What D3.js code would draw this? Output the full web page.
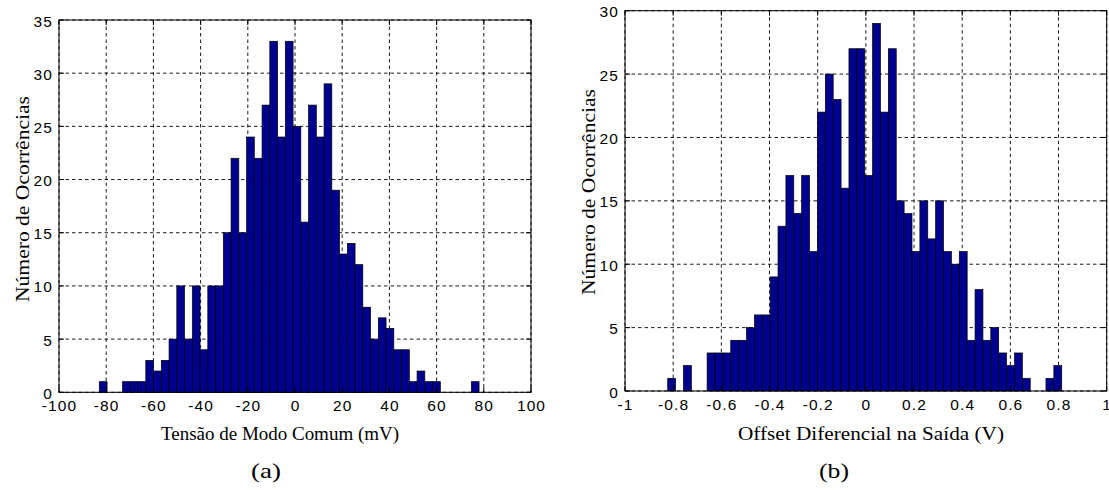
<!DOCTYPE html>
<html>
<head>
<meta charset="utf-8">
<script src="https://cdn.jsdelivr.net/npm/d3@7"></script>
<style>
  html, body { margin: 0; padding: 0; background: #fff; }
  svg { display: block; }
  .tick-label { font-family: "Liberation Sans", Arial, sans-serif; font-size: 15.5px; letter-spacing: 1.1px; fill: #000; }
  .axis-title { font-family: "Liberation Serif", "Times New Roman", serif; font-size: 18px; fill: #000; }
  .caption { font-family: "Liberation Serif", "Times New Roman", serif; font-size: 22px; fill: #000; }
</style>
</head>
<body>
<svg id="chart" width="1109" height="490"></svg>
<script>
// Panel (a): common-mode voltage histogram (mV)
const binStartA = -82.92;
const binWidthA = 3.284;
const countsA = [1, 0, 0, 1, 1, 1, 3, 2, 3, 5, 10, 5, 10, 4, 10, 10, 15, 22, 15, 24,
                 22, 27, 33, 24, 33, 25, 16, 27, 24, 29, 19, 13, 14, 12, 8, 5, 7, 6, 4, 4,
                 1, 2, 1, 1, 0, 0, 0, 0, 1];
const xTicksA = [-100, -80, -60, -40, -20, 0, 20, 40, 60, 80, 100];
const xTickLabelsA = ["-100", "-80", "-60", "-40", "-20", "0", "20", "40", "60", "80", "100"];
const yTicksA = [0, 5, 10, 15, 20, 25, 30, 35];

// Panel (b): differential output offset histogram (V)
const binStartB = -0.8227;
const binWidthB = 0.03272;
const countsB = [1, 0, 2, 0, 0, 3, 3, 3, 4, 4, 5, 6, 6, 9, 13, 17, 14, 17, 11, 22,
                 25, 23, 16, 27, 27, 17, 29, 22, 27, 15, 14, 11, 15, 12, 15, 11, 10, 11, 4, 8,
                 4, 5, 3, 2, 3, 1, 0, 0, 1, 2];
const xTicksB = [-1, -0.8, -0.6, -0.4, -0.2, 0, 0.2, 0.4, 0.6, 0.8, 1];
const xTickLabelsB = ["-1", "-0.8", "-0.6", "-0.4", "-0.2", "0", "0.2", "0.4", "0.6", "0.8", "1"];
const yTicksB = [0, 5, 10, 15, 20, 25, 30];

const svg = d3.select("#chart");

function drawPanel(opt) {
  const x = d3.scaleLinear().domain(opt.xDomain).range([opt.left, opt.right]);
  const y = d3.scaleLinear().domain(opt.yDomain).range([opt.bottom, opt.top]);
  const g = svg.append("g");

  // dashed grid
  g.selectAll("line.vgrid").data(opt.xTicks).join("line")
    .attr("x1", d => x(d)).attr("x2", d => x(d))
    .attr("y1", opt.top).attr("y2", opt.bottom)
    .attr("stroke", "#000").attr("stroke-width", 0.9)
    .attr("stroke-dasharray", "3.5,3");
  g.selectAll("line.hgrid").data(opt.yTicks).join("line")
    .attr("x1", opt.left).attr("x2", opt.right)
    .attr("y1", d => y(d)).attr("y2", d => y(d))
    .attr("stroke", "#000").attr("stroke-width", 0.9)
    .attr("stroke-dasharray", "3.5,3");

  // histogram bars
  const bins = opt.counts.map((c, i) => ({
    x0: opt.binStart + i * opt.binWidth,
    x1: opt.binStart + (i + 1) * opt.binWidth,
    c
  })).filter(b => b.c > 0);
  g.selectAll("rect.bar").data(bins).join("rect")
    .attr("x", d => x(d.x0))
    .attr("width", d => x(d.x1) - x(d.x0))
    .attr("y", d => y(d.c))
    .attr("height", d => y(0) - y(d.c))
    .attr("fill", "#00008f")
    .attr("stroke", "#000")
    .attr("stroke-width", 0.7);

  // box
  g.append("rect")
    .attr("x", opt.left).attr("y", opt.top)
    .attr("width", opt.right - opt.left).attr("height", opt.bottom - opt.top)
    .attr("fill", "none").attr("stroke", "#000").attr("stroke-width", 1);

  // inward ticks on all sides
  const tl = 5;
  opt.xTicks.forEach(t => {
    g.append("line").attr("x1", x(t)).attr("x2", x(t)).attr("y1", opt.bottom).attr("y2", opt.bottom - tl).attr("stroke", "#000");
    g.append("line").attr("x1", x(t)).attr("x2", x(t)).attr("y1", opt.top).attr("y2", opt.top + tl).attr("stroke", "#000");
  });
  opt.yTicks.forEach(t => {
    g.append("line").attr("x1", opt.left).attr("x2", opt.left + tl).attr("y1", y(t)).attr("y2", y(t)).attr("stroke", "#000");
    g.append("line").attr("x1", opt.right).attr("x2", opt.right - tl).attr("y1", y(t)).attr("y2", y(t)).attr("stroke", "#000");
  });

  // tick labels
  g.selectAll("text.xt").data(opt.xTicks).join("text")
    .attr("class", "tick-label")
    .attr("x", d => x(d) + 0.5).attr("y", opt.bottom + 19)
    .attr("text-anchor", "middle")
    .text((d, i) => opt.xTickLabels[i]);
  g.selectAll("text.yt").data(opt.yTicks).join("text")
    .attr("class", "tick-label")
    .attr("x", opt.left - 6).attr("y", d => y(d) + 6.5)
    .attr("text-anchor", "end")
    .text(d => d);

  // axis titles
  g.append("text").attr("class", "axis-title")
    .attr("x", opt.xTitleX).attr("y", 440)
    .attr("text-anchor", "middle")
    .attr("textLength", opt.xTitleLen).attr("lengthAdjust", "spacingAndGlyphs")
    .text(opt.xTitle);
  g.append("text").attr("class", "axis-title")
    .attr("transform", `translate(${opt.yTitleX},${opt.yTitleY}) rotate(-90)`)
    .attr("text-anchor", "middle")
    .attr("textLength", 206).attr("lengthAdjust", "spacingAndGlyphs")
    .text("Número de Ocorrências");
  g.append("text").attr("class", "caption")
    .attr("x", opt.capX).attr("y", 478)
    .attr("text-anchor", "middle")
    .attr("textLength", 30).attr("lengthAdjust", "spacingAndGlyphs")
    .text(opt.caption);
}

drawPanel({
  left: 59, right: 531, top: 20, bottom: 392.3,
  xDomain: [-100, 100], yDomain: [0, 35],
  xTicks: xTicksA, xTickLabels: xTickLabelsA, yTicks: yTicksA,
  counts: countsA, binStart: binStartA, binWidth: binWidthA,
  xTitle: "Tensão de Modo Comum (mV)", xTitleX: 280, xTitleLen: 238,
  yTitleX: 29, yTitleY: 199,
  caption: "(a)", capX: 266
});

drawPanel({
  left: 625, right: 1106.7, top: 10.7, bottom: 391,
  xDomain: [-1, 1], yDomain: [0, 30],
  xTicks: xTicksB, xTickLabels: xTickLabelsB, yTicks: yTicksB,
  counts: countsB, binStart: binStartB, binWidth: binWidthB,
  xTitle: "Offset Diferencial na Saída (V)", xTitleX: 871, xTitleLen: 266,
  yTitleX: 595, yTitleY: 192,
  caption: "(b)", capX: 834
});
</script>
</body>
</html>
